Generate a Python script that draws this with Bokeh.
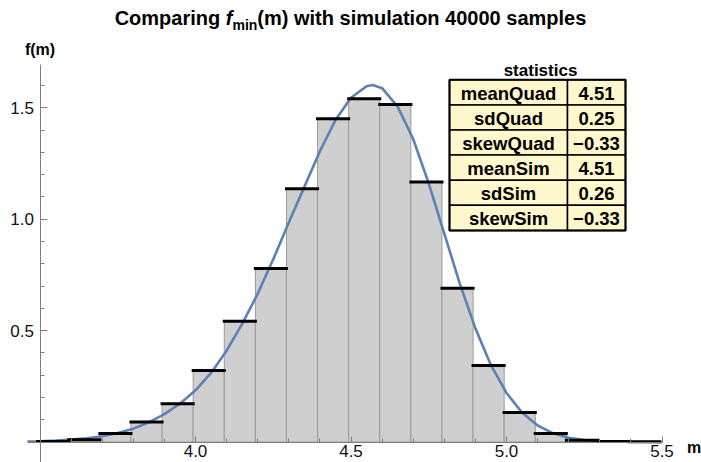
from bokeh.plotting import figure
from bokeh.models import LinearAxis, FixedTicker, Div
from bokeh.layouts import column
from bokeh.embed import file_html
from bokeh.resources import INLINE
from bokeh.core.properties import value

# ---------------- data ----------------
bin_left = [3.4925, 3.5925, 3.6925, 3.7925, 3.8925, 3.9925, 4.0925, 4.1925, 4.2925, 4.3925,
            4.4925, 4.5925, 4.6925, 4.7925, 4.8925, 4.9925, 5.0925, 5.1925, 5.2925, 5.3925]
bin_width = 0.1
density = [0.002, 0.010, 0.038, 0.090, 0.172, 0.321, 0.542, 0.779, 1.137, 1.451,
           1.541, 1.515, 1.167, 0.690, 0.343, 0.132, 0.038, 0.008, 0.002, 0.001]

curve_m = [3.46, 3.50, 3.55, 3.60, 3.65, 3.70, 3.75, 3.80, 3.85, 3.90, 3.95, 4.00, 4.05,
           4.10, 4.15, 4.20, 4.25, 4.30, 4.35, 4.40, 4.45, 4.50, 4.55, 4.57, 4.60, 4.65,
           4.70, 4.75, 4.80, 4.85, 4.90, 4.95, 5.00, 5.05, 5.10, 5.15, 5.20, 5.25, 5.30,
           5.35, 5.40, 5.50]
curve_f = [0.002, 0.003, 0.006, 0.011, 0.017, 0.026, 0.040, 0.060, 0.088, 0.125, 0.172, 0.232, 0.310,
           0.410, 0.530, 0.665, 0.820, 0.985, 1.145, 1.305, 1.445, 1.545, 1.597, 1.602, 1.588, 1.505,
           1.360, 1.160, 0.935, 0.710, 0.510, 0.345, 0.220, 0.132, 0.074, 0.039, 0.019, 0.009, 0.004,
           0.002, 0.001, 0.0]

stat_names = ["meanQuad", "sdQuad", "skewQuad", "meanSim", "sdSim", "skewSim"]
stat_values = ["4.51", "0.25", "\u22120.33", "4.51", "0.26", "\u22120.33"]

x_major = [4.0, 4.5, 5.0, 5.5]
x_minor = [3.6, 3.7, 3.8, 3.9, 4.1, 4.2, 4.3, 4.4, 4.6, 4.7, 4.8, 4.9, 5.1, 5.2, 5.3, 5.4]
y_major = [0.5, 1.0, 1.5]
y_minor = [0.1, 0.2, 0.3, 0.4, 0.6, 0.7, 0.8, 0.9, 1.1, 1.2, 1.3, 1.4, 1.6]

# ---------------- layout helpers (page px -> data) ----------------
W, H = 701, 462
TITLE_H = 30

def px2x(px):
    return 4.0 + (px - 195.0) / 311.0

def py2y(py):
    return (441.5 - py) / 222.8

X0, X1 = px2x(0), px2x(W)
Y0, Y1 = py2y(H), py2y(TITLE_H)

FONT = "Liberation Sans"

title = Div(
    text=("<div style=\"width:701px;text-align:center;font-family:'Liberation Sans',Arial;"
          "font-weight:bold;font-size:20px;line-height:24px;padding-top:6px;color:#000;"
          "white-space:nowrap\">"
          "Comparing <i>f</i><span style=\"font-size:14px;position:relative;top:5px\">min</span>"
          "(m) with simulation 40000 samples</div>"),
    width=W, height=TITLE_H, margin=(0, 0, 0, 0))

p = figure(width=W, height=H - TITLE_H, x_range=(X0, X1), y_range=(Y0, Y1),
           x_axis_type=None, y_axis_type=None, toolbar_location=None,
           output_backend="svg", min_border=0, min_border_left=0,
           min_border_right=0, min_border_top=0, min_border_bottom=0,
           outline_line_color=None, background_fill_color="white",
           border_fill_color="white")
p.margin = (0, 0, 0, 0)

# axes crossing at (3.5, 0)
axis_color = "#7f7f7f"
xaxis = LinearAxis(fixed_location=0, bounds=(px2x(27), px2x(662)),
                   ticker=FixedTicker(ticks=x_major, minor_ticks=x_minor))
xaxis.major_label_overrides = {4.0: "4.0", 4.5: "4.5", 5.0: "5.0", 5.5: "5.5"}
yaxis = LinearAxis(fixed_location=3.5, bounds=(Y0, 1.693),
                   ticker=FixedTicker(ticks=y_major, minor_ticks=y_minor))
yaxis.major_label_overrides = {0.5: "0.5", 1.0: "1.0", 1.5: "1.5"}
for ax, tin, standoff in ((xaxis, 6, 3), (yaxis, 7, 6)):
    ax.axis_line_color = axis_color
    ax.axis_line_width = 1
    ax.major_tick_line_color = axis_color
    ax.minor_tick_line_color = axis_color
    ax.major_tick_in = tin
    ax.major_tick_out = 0
    ax.minor_tick_in = 4
    ax.minor_tick_out = 0
    ax.major_label_text_font = FONT
    ax.major_label_text_font_size = "17px"
    ax.major_label_text_color = "#111111"
    ax.major_label_standoff = standoff
p.add_layout(xaxis, "below")
p.add_layout(yaxis, "left")

# histogram bars (simulation)
bin_right = [b + bin_width for b in bin_left]
p.quad(left=bin_left, right=bin_right, bottom=0, top=density,
       fill_color="#cfcfcf", line_color="#9a9a9a", line_width=1)

# density curve f_min(m)
p.line(curve_m, curve_f, line_color="#5e81b5", line_width=2.6)

# black bin-level marks
p.segment(x0=bin_left, y0=density, x1=bin_right, y1=density,
          line_color="black", line_width=3, line_cap="square")

# axis labels
p.text(x=[3.5], y=[py2y(48.5)], text=["f(m)"], text_align="center", text_baseline="alphabetic",
       text_font=value(FONT), text_font_style="bold", text_font_size="16px", text_color="black")
p.text(x=[px2x(693.5)], y=[py2y(447)], text=["m"], text_align="center", text_baseline="alphabetic",
       text_font=value(FONT), text_font_style="bold", text_font_size="16px", text_color="black")

# statistics table
t_left, t_mid, t_right = 449, 567, 625
row_h = 25.1
row_top0 = 79.3
tops = [row_top0 + k * row_h for k in range(len(stat_names))]
bots = [t + row_h for t in tops]
p.quad(left=[px2x(t_left)] * len(tops), right=[px2x(t_mid)] * len(tops),
       top=[py2y(t) for t in tops], bottom=[py2y(b) for b in bots],
       fill_color="#fff8cc", line_color="black", line_width=1.5)
p.quad(left=[px2x(t_mid)] * len(tops), right=[px2x(t_right)] * len(tops),
       top=[py2y(t) for t in tops], bottom=[py2y(b) for b in bots],
       fill_color="#fff8cc", line_color="black", line_width=1.5)
p.quad(left=[px2x(t_left)], right=[px2x(t_right)], top=[py2y(tops[0])], bottom=[py2y(bots[-1])],
       fill_color=None, line_color="black", line_width=2)
mids = [py2y(t + row_h / 2 + 1) for t in tops]
p.text(x=[px2x((t_left + t_mid) / 2)] * len(tops), y=mids, text=stat_names,
       text_align="center", text_baseline="middle", text_font=value(FONT),
       text_font_style="bold", text_font_size="18.5px", text_color="black")
p.text(x=[px2x((t_mid + t_right) / 2)] * len(tops), y=mids, text=stat_values,
       text_align="center", text_baseline="middle", text_font=value(FONT),
       text_font_style="bold", text_font_size="18.5px", text_color="black")
p.text(x=[px2x(540)], y=[py2y(70)], text=["statistics"], text_align="center",
       text_baseline="alphabetic", text_font=value(FONT), text_font_style="bold",
       text_font_size="17px", text_color="black")

layout = column(title, p, spacing=0, margin=(0, 0, 0, 0))
open("out.html", "w").write(file_html(layout, INLINE))
